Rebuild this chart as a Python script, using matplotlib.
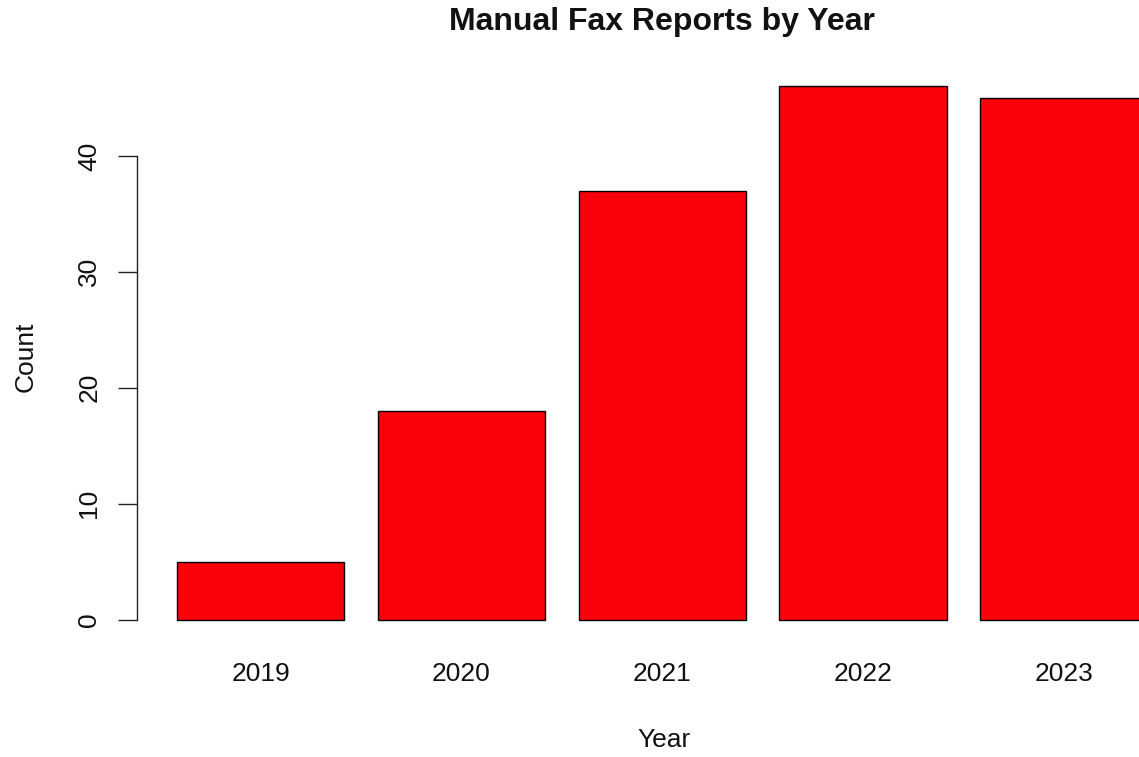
import matplotlib
matplotlib.use("Agg")
import matplotlib.pyplot as plt

years = ["2019", "2020", "2021", "2022", "2023"]
counts = [5, 18, 37, 46, 45]
yticks = [0, 10, 20, 30, 40]

W, H = 1139, 757
fig = plt.figure(figsize=(W / 100, H / 100), dpi=100)
ax = fig.add_axes([0, 0, 1, 1])

# pixel mapping (R barplot geometry: width 1, space 0.2)
unit_x = 167.3
x0_px = 177.0 - 0.2 * unit_x
y0_px, unit_y = 619.5, 11.59
ax.set_xlim(-x0_px / unit_x, (W - x0_px) / unit_x)
ax.set_ylim(-(H - y0_px) / unit_y, y0_px / unit_y)

centers = [0.7 + 1.2 * i for i in range(len(years))]
ax.bar(centers, counts, width=1.0, color="#f9000a", edgecolor="black", linewidth=1.0)

for s in ["top", "right", "bottom"]:
    ax.spines[s].set_visible(False)
axis_x = (136.7 - x0_px) / unit_x
ax.spines["left"].set_position(("data", axis_x))
ax.spines["left"].set_bounds(0, 40)
ax.spines["left"].set_linewidth(1.0)
ax.spines["left"].set_color("#222222")
ax.set_xticks([])
ax.set_yticks(yticks)
ax.set_yticklabels([str(v) for v in yticks], rotation=90, va="center", ha="center")
ax.tick_params(axis="y", length=14, width=1.0, color="#222222", pad=20,
               labelsize=19, labelcolor="#111111")
for lbl in ax.get_yticklabels():
    lbl.set_fontfamily("Liberation Sans")

font = "Liberation Sans"
for c, y in zip(centers, years):
    ax.text(c, -(673.7 - y0_px) / unit_y, y, ha="center", va="center",
            fontsize=19, family=font, color="#111111")

fig.text(664 / W, 1 - 740 / H, "Year", ha="center", va="center", fontsize=19,
         family=font, color="#111111")
fig.text(26 / W, 1 - 357 / H, "Count", ha="center", va="center", rotation=90,
         fontsize=19, family=font, color="#111111")
fig.text(662 / W, 1 - 22 / H, "Manual Fax Reports by Year", ha="center", va="center",
         fontsize=23, fontweight="bold", family=font, color="#111111")

fig.savefig("out.png", dpi=100)
